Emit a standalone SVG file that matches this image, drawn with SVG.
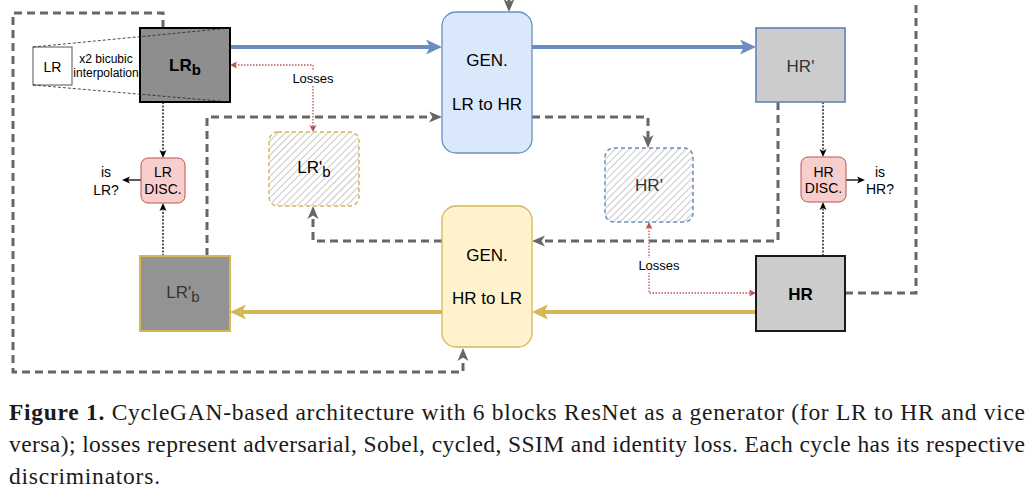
<svg xmlns="http://www.w3.org/2000/svg" width="1030" height="500" viewBox="0 0 1030 500">
<style>
.t{font-family:"Liberation Sans",Arial,sans-serif;text-anchor:middle;fill:#000}
.g{fill:#333}
.dash{fill:none;stroke:#666;stroke-width:3;stroke-dasharray:8 5}
.dot{fill:none;stroke:#000;stroke-width:1.3;stroke-dasharray:2 1.5}
.red{fill:none;stroke:#b85450;stroke-width:1.3;stroke-dasharray:1.5 1.5}
.cap{font-family:"Liberation Serif","Times New Roman",serif;font-size:23.5px;fill:#1a1a1a}
</style>
<defs>
<marker id="aBlue" markerUnits="userSpaceOnUse" markerWidth="16" markerHeight="15" refX="4" refY="7.5" orient="auto" overflow="visible"><path d="M0,0 L16,7.5 L0,15 L4,7.5 Z" fill="#6c8ebf"/></marker>
<marker id="aYel" markerUnits="userSpaceOnUse" markerWidth="16" markerHeight="15" refX="4" refY="7.5" orient="auto" overflow="visible"><path d="M0,0 L16,7.5 L0,15 L4,7.5 Z" fill="#d6b656"/></marker>
<marker id="aGray" markerUnits="userSpaceOnUse" markerWidth="13" markerHeight="11" refX="3.5" refY="5.5" orient="auto" overflow="visible"><path d="M0,0 L13,5.5 L0,11 L3.5,5.5 Z" fill="#666"/></marker>
<marker id="aBlk" markerUnits="userSpaceOnUse" markerWidth="8" markerHeight="7" refX="2" refY="3.5" orient="auto" overflow="visible"><path d="M0,0 L8,3.5 L0,7 L2,3.5 Z" fill="#000"/></marker>
<marker id="aRed" markerUnits="userSpaceOnUse" markerWidth="7" markerHeight="7" refX="1.5" refY="3.5" orient="auto-start-reverse" overflow="visible"><path d="M0,0 L7,3.5 L0,7 L1.5,3.5 Z" fill="#b85450"/></marker>
<pattern id="hatch" patternUnits="userSpaceOnUse" width="5" height="5" patternTransform="rotate(45)"><line x1="0" y1="0" x2="0" y2="5" stroke="#999" stroke-width="1.1"/></pattern>
</defs>

<g id="connectors">
  <path d="M230,47 H430" stroke="#6c8ebf" stroke-width="4" fill="none" marker-end="url(#aBlue)"/>
  <path d="M532,47 H744" stroke="#6c8ebf" stroke-width="4" fill="none" marker-end="url(#aBlue)"/>
  <path d="M756,312 H544" stroke="#d6b656" stroke-width="4" fill="none" marker-end="url(#aYel)"/>
  <path d="M442,312 H242" stroke="#d6b656" stroke-width="4" fill="none" marker-end="url(#aYel)"/>
  <path class="dash" d="M163,28 V13 H13 V372 H463 V357.5" marker-end="url(#aGray)"/>
  <path class="dash" d="M845,293 H916 V-6 H509 V2.5" marker-end="url(#aGray)"/>
  <path class="dash" d="M207,256 V117 H432.5" marker-end="url(#aGray)"/>
  <path class="dash" d="M532,117 H648 V138.5" marker-end="url(#aGray)"/>
  <path class="dash" d="M778,102 V241 H541.5" marker-end="url(#aGray)"/>
  <path class="dash" d="M442,241 H313 V215.5" marker-end="url(#aGray)"/>
  <path class="dot" d="M163,102 V152" marker-end="url(#aBlk)"/>
  <path class="dot" d="M163,256 V209" marker-end="url(#aBlk)"/>
  <path class="dot" d="M823,102 V151" marker-end="url(#aBlk)"/>
  <path class="dot" d="M823,256 V208" marker-end="url(#aBlk)"/>
  <path d="M141,180 H128" stroke="#000" stroke-width="1.3" fill="none" marker-end="url(#aBlk)"/>
  <path d="M846,180 H859" stroke="#000" stroke-width="1.3" fill="none" marker-end="url(#aBlk)"/>
  <path class="red" d="M313,126.5 V65 H235.5" marker-start="url(#aRed)" marker-end="url(#aRed)"/>
  <rect x="289" y="71" width="48" height="15" fill="#fff"/>
  <text class="t" x="313" y="83" font-size="13">Losses</text>
  <path class="red" d="M649,227.5 V293 H750.5" marker-start="url(#aRed)" marker-end="url(#aRed)"/>
  <rect x="635" y="258" width="48" height="15" fill="#fff"/>
  <text class="t" x="659" y="270" font-size="13">Losses</text>
</g>

<g id="lr-input">
  <rect x="33" y="47" width="39" height="38" fill="#fff" stroke="#555" stroke-width="1"/>
  <text class="t" x="52.5" y="72" font-size="14">LR</text>
  <text class="t" x="106" y="63" font-size="12">x2 bicubic</text>
  <text class="t" x="106" y="77" font-size="12">interpolation</text>
</g>

<g id="lr-b">
  <rect x="140" y="28" width="90" height="74" fill="#8e8e8e" stroke="#000" stroke-width="2"/>
  <text class="t" x="185" y="71" font-size="17" font-weight="bold">LR<tspan font-size="15" dy="4">b</tspan></text>
</g>

<g id="interp-lines" fill="none" stroke="#222" stroke-width="0.8" stroke-dasharray="3 2">
  <line x1="33" y1="47" x2="230" y2="28"/>
  <line x1="33" y1="85" x2="230" y2="102"/>
</g>

<g id="gen-lr2hr">
  <rect x="442" y="12" width="90" height="141" rx="14" fill="#dae8fc" stroke="#6c8ebf" stroke-width="1.3"/>
  <text class="t" x="487" y="66" font-size="17">GEN.</text>
  <text class="t" x="487" y="110" font-size="17">LR to HR</text>
</g>

<g id="hr-prime">
  <rect x="756" y="28" width="89" height="74" fill="#cccccc" stroke="#6c8ebf" stroke-width="1.8"/>
  <text class="t g" x="800.5" y="72" font-size="17">HR'</text>
</g>

<g id="lr-disc">
  <rect x="141" y="158" width="44" height="45" rx="7" fill="#f8cecc" stroke="#b85450" stroke-width="1"/>
  <text class="t" x="163" y="177" font-size="14">LR</text>
  <text class="t" x="163" y="194" font-size="14">DISC.</text>
  <text class="t" x="106" y="177" font-size="14">is</text>
  <text class="t" x="106" y="195" font-size="14">LR?</text>
</g>

<g id="hr-disc">
  <rect x="801" y="157" width="45" height="45" rx="7" fill="#f8cecc" stroke="#b85450" stroke-width="1"/>
  <text class="t" x="823.5" y="177" font-size="14">HR</text>
  <text class="t" x="823.5" y="193" font-size="14">DISC.</text>
  <text class="t" x="880" y="177" font-size="14">is</text>
  <text class="t" x="880" y="194" font-size="14">HR?</text>
</g>

<g id="lr-b-cycled">
  <rect x="269" y="132" width="90" height="74" rx="9" fill="#fff"/>
  <rect x="269" y="132" width="90" height="74" rx="9" fill="url(#hatch)" stroke="#d6b656" stroke-width="1.5" stroke-dasharray="4 3"/>
  <text class="t" x="314" y="173" font-size="17">LR'<tspan font-size="15" dy="4">b</tspan></text>
</g>

<g id="hr-prime-cycled">
  <rect x="605" y="148" width="88" height="74" rx="9" fill="#fff"/>
  <rect x="605" y="148" width="88" height="74" rx="9" fill="url(#hatch)" stroke="#6c8ebf" stroke-width="1.5" stroke-dasharray="4 3"/>
  <text class="t g" x="649" y="191" font-size="17">HR'</text>
</g>

<g id="gen-hr2lr">
  <rect x="442" y="206" width="90" height="141" rx="14" fill="#fff2cc" stroke="#d6b656" stroke-width="1.3"/>
  <text class="t" x="487" y="261" font-size="17">GEN.</text>
  <text class="t" x="487" y="304" font-size="17">HR to LR</text>
</g>

<g id="lr-prime-b">
  <rect x="140" y="256" width="90" height="75" fill="#939393" stroke="#d6b656" stroke-width="2"/>
  <text class="t g" x="183" y="298" font-size="17">LR'<tspan font-size="15" dy="4">b</tspan></text>
</g>

<g id="hr">
  <rect x="756" y="256" width="89" height="75" fill="#cccccc" stroke="#1a1a1a" stroke-width="2"/>
  <text class="t" x="800.5" y="300" font-size="17" font-weight="bold">HR</text>
</g>

<g id="caption">
  <text class="cap" x="9" y="420" textLength="1016" lengthAdjust="spacing"><tspan font-weight="bold">Figure 1.</tspan> CycleGAN-based architecture with 6 blocks ResNet as a generator (for LR to HR and vice</text>
  <text class="cap" x="9" y="452" textLength="1016" lengthAdjust="spacing">versa); losses represent adversarial, Sobel, cycled, SSIM and identity loss. Each cycle has its respective</text>
  <text class="cap" x="9" y="484" textLength="151" lengthAdjust="spacing">discriminators.</text>
</g>
</svg>
